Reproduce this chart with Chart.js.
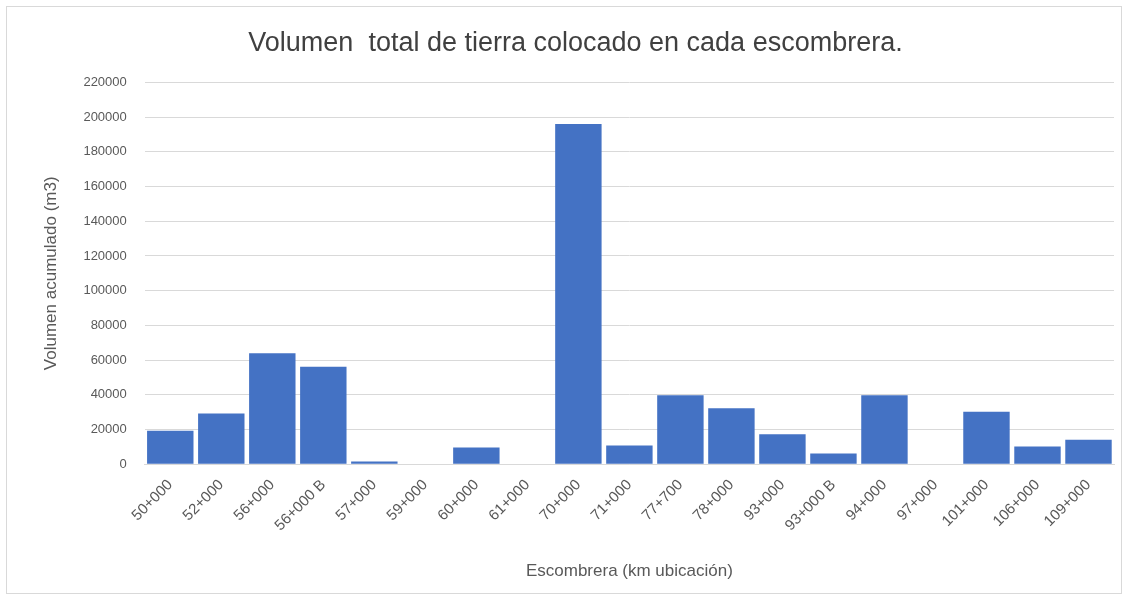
<!DOCTYPE html>
<html>
<head>
<meta charset="utf-8">
<script src="https://cdn.jsdelivr.net/npm/chart.js@4/dist/chart.umd.min.js"></script>
<style>
  html, body { margin: 0; padding: 0; background: #ffffff; }
  #frame { position: absolute; left: 6px; top: 6px; width: 1116px; height: 588px; border: 1px solid #d9d9d9; box-sizing: border-box; }
  #wrap { position: absolute; left: 0; top: 0; width: 1130px; height: 602px; }
</style>
</head>
<body>
<div id="frame"></div>
<div id="wrap"><canvas id="c" width="1130" height="602"></canvas></div>
<script>
const categories = ["50+000","52+000","56+000","56+000 B","57+000","59+000","60+000","61+000","70+000","71+000","77+700","78+000","93+000","93+000 B","94+000","97+000","101+000","106+000","109+000"];
const volumes = [19300, 29200, 63900, 56200, 1500, 0, 9600, 0, 196000, 10800, 39700, 32200, 17200, 6200, 39700, 0, 30200, 10200, 14000];
const yTicks = { min: 0, max: 220000, step: 20000 };
const titleText = "Volumen  total de tierra colocado en cada escombrera.";
const xTitle = "Escombrera (km ubicación)";
const yTitle = "Volumen acumulado (m3)";

const FONT = "'Liberation Sans', Arial, sans-serif";
new Chart(document.getElementById('c'), {
  type: 'bar',
  data: {
    labels: categories,
    datasets: [{
      label: 'Volumen',
      data: volumes,
      backgroundColor: '#4472C4',
      borderWidth: 0,
      barPercentage: 0.91,
      categoryPercentage: 1.0
    }]
  },
  options: {
    responsive: false,
    animation: false,
    layout: { padding: { left: 37, right: 16, top: 27, bottom: 16 } },
    plugins: {
      legend: { display: false },
      tooltip: { enabled: false },
      title: {
        display: true,
        text: titleText,
        color: '#404040',
        font: { family: FONT, size: 27, weight: 'normal' },
        padding: { top: 0, bottom: 23 }
      }
    },
    scales: {
      x: {
        grid: { display: false },
        border: { color: '#d9d9d9' },
        ticks: {
          color: '#595959',
          font: { family: FONT, size: 15 },
          maxRotation: 45, minRotation: 45,
          autoSkip: false,
          padding: 4
        },
        title: {
          display: true, text: xTitle, color: '#595959',
          font: { family: FONT, size: 17 }, padding: { top: 23 }
        }
      },
      y: {
        min: yTicks.min, max: yTicks.max,
        grid: { color: '#d9d9d9', drawTicks: false },
        border: { display: false },
        ticks: {
          stepSize: yTicks.step,
          color: '#595959',
          font: { family: FONT, size: 13 },
          padding: 18,
          callback: v => String(v)
        },
        title: {
          display: true, text: yTitle, color: '#595959',
          font: { family: FONT, size: 17 }, padding: { bottom: 4 }
        }
      }
    }
  }
});
</script>
</body>
</html>
